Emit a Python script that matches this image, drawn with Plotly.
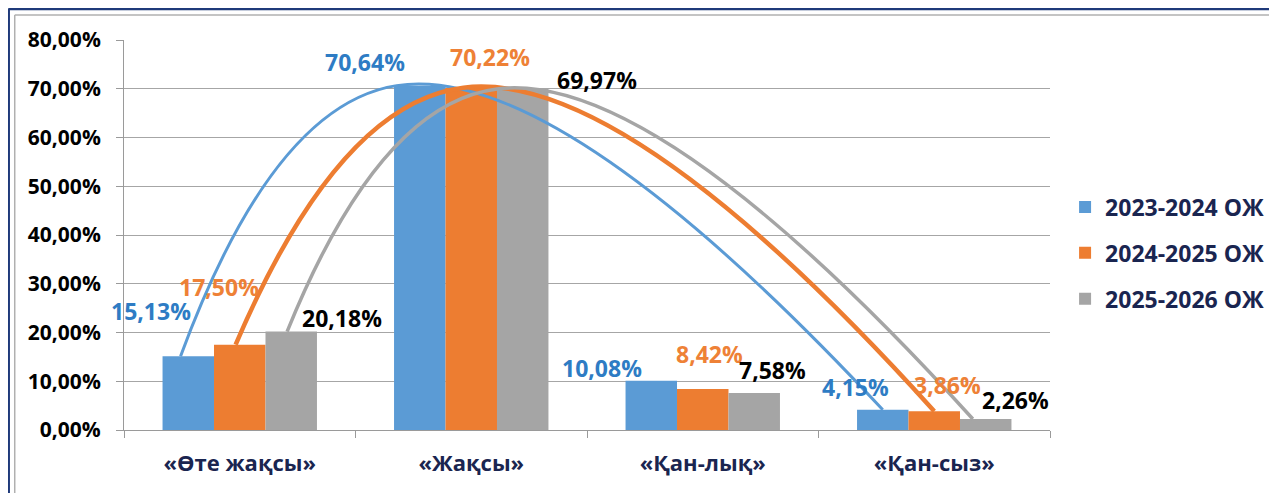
import plotly.graph_objects as go

categories = ["«Өте жақсы»", "«Жақсы»", "«Қан-лық»", "«Қан-сыз»"]
series_names = ["2023-2024 ОЖ", "2024-2025 ОЖ", "2025-2026 ОЖ"]
values_2023 = [15.13, 70.64, 10.08, 4.15]
values_2024 = [17.50, 70.22, 8.42, 3.86]
values_2025 = [20.18, 69.97, 7.58, 2.26]
y_ticks = [0, 10, 20, 30, 40, 50, 60, 70, 80]
y_tick_labels = ["0,00%", "10,00%", "20,00%", "30,00%", "40,00%", "50,00%", "60,00%", "70,00%", "80,00%"]

series = [values_2023, values_2024, values_2025]
bar_colors = ["#5B9BD5", "#ED7D31", "#A5A5A5"]
label_colors = ["#2E7CC4", "#EE8136", "#000000"]
line_widths = [3, 4.5, 3.5]
# horizontal shift (in bar widths) of each curve's start / apex / end relative to the bar centre
curve_shift = [
    [-0.15, -0.45, 0.0],
    [-0.08, -0.15, 0.0],
    [-0.08, -0.5, -0.25],
]
# label centre offsets (pixels) relative to bar-top centre
label_shift = [
    [(-37, 45), (-55, 24), (-49, 13), (-27, 23)],
    [(-21, 58), (19, 31), (7, 35), (13, 26)],
    [(51, 14), (74, 9), (18, 23), (30, 19)],
]

FONT = "Open Sans"
BARGAP = 0.333
bw = (1 - BARGAP) / 3
xs = list(range(len(categories)))

fig = go.Figure()
for i, (name, vals) in enumerate(zip(series_names, series)):
    fig.add_trace(go.Bar(
        x=xs, y=vals, name=name, marker=dict(color=bar_colors[i], line=dict(width=0)),
        offsetgroup=str(i), legendgroup=str(i), hoverinfo="skip",
    ))

# smooth trend curves through first, second and last category bar tops
for i, vals in enumerate(series):
    off = (i - 1) * bw
    idx = [0, 1, len(categories) - 1]
    fig.add_trace(go.Scatter(
        x=[xs[k] + off + s * bw for k, s in zip(idx, curve_shift[i])], y=[vals[k] for k in idx],
        mode="lines", line=dict(color=bar_colors[i], width=line_widths[i], shape="spline", smoothing=1.3),
        showlegend=False, hoverinfo="skip",
    ))

fmt = lambda v: f"{v:.2f}".replace(".", ",") + "%"
for i, vals in enumerate(series):
    off = (i - 1) * bw
    for k, v in enumerate(vals):
        dx, dy = label_shift[i][k]
        fig.add_annotation(
            x=xs[k] + off, y=v, text=fmt(v), showarrow=False,
            xshift=dx, yshift=dy, xanchor="center", yanchor="middle",
            font=dict(family=FONT, size=23, color=label_colors[i], weight="bold"),
        )

# outer frame
fig.add_shape(type="line", xref="paper", yref="paper", x0=-0.125, x1=1.3, y0=1.0795, y1=1.0795,
              line=dict(color="#1F3A7A", width=2.5))
fig.add_shape(type="line", xref="paper", yref="paper", x0=-0.1245, x1=-0.1245, y0=-0.2, y1=1.0795,
              line=dict(color="#1F3A7A", width=2.5))
fig.add_shape(type="line", xref="paper", yref="paper", x0=-0.118, x1=1.3, y0=1.064, y1=1.064,
              line=dict(color="#B0B0B0", width=1.5))
fig.add_shape(type="line", xref="paper", yref="paper", x0=-0.118, x1=-0.118, y0=-0.2, y1=1.064,
              line=dict(color="#B0B0B0", width=1.5))

fig.update_layout(
    width=1269, height=485,
    margin=dict(l=116, r=227, t=32, b=63, autoexpand=False),
    paper_bgcolor="white", plot_bgcolor="white",
    barmode="group", bargap=BARGAP, bargroupgap=0,
    font=dict(family=FONT, color="#000000"),
    legend=dict(
        xref="container", yref="container",
        x=0.833, y=0.634, xanchor="left", yanchor="top",
        font=dict(family=FONT, size=23, color="#1A2550", weight="bold"),
        traceorder="grouped", tracegroupgap=13, itemwidth=30,
        bgcolor="rgba(0,0,0,0)",
    ),
    xaxis=dict(
        range=[-0.5, 3.5], tickvals=xs, ticktext=categories, ticks="",
        showgrid=False, showline=True, linecolor="#9A9A9A", linewidth=1,
        tickfont=dict(family=FONT, size=22, color="#1A2550", weight="bold"),
        ticklabelstandoff=14, zeroline=False,
        minor=dict(tickvals=[-0.5, 0.5, 1.5, 2.5, 3.5], ticks="outside", ticklen=7, tickcolor="#9A9A9A", showgrid=False),
    ),
    yaxis=dict(
        range=[0, 80], tickvals=y_ticks, ticktext=y_tick_labels,
        showgrid=True, gridcolor="#A6A6A6", gridwidth=1,
        showline=True, linecolor="#9A9A9A", linewidth=1,
        ticks="outside", ticklen=7, tickcolor="#9A9A9A",
        tickfont=dict(family=FONT, size=21, color="#000000", weight="bold"),
        zeroline=False, ticklabelstandoff=11,
    ),
)

fig.write_html("out.html")
